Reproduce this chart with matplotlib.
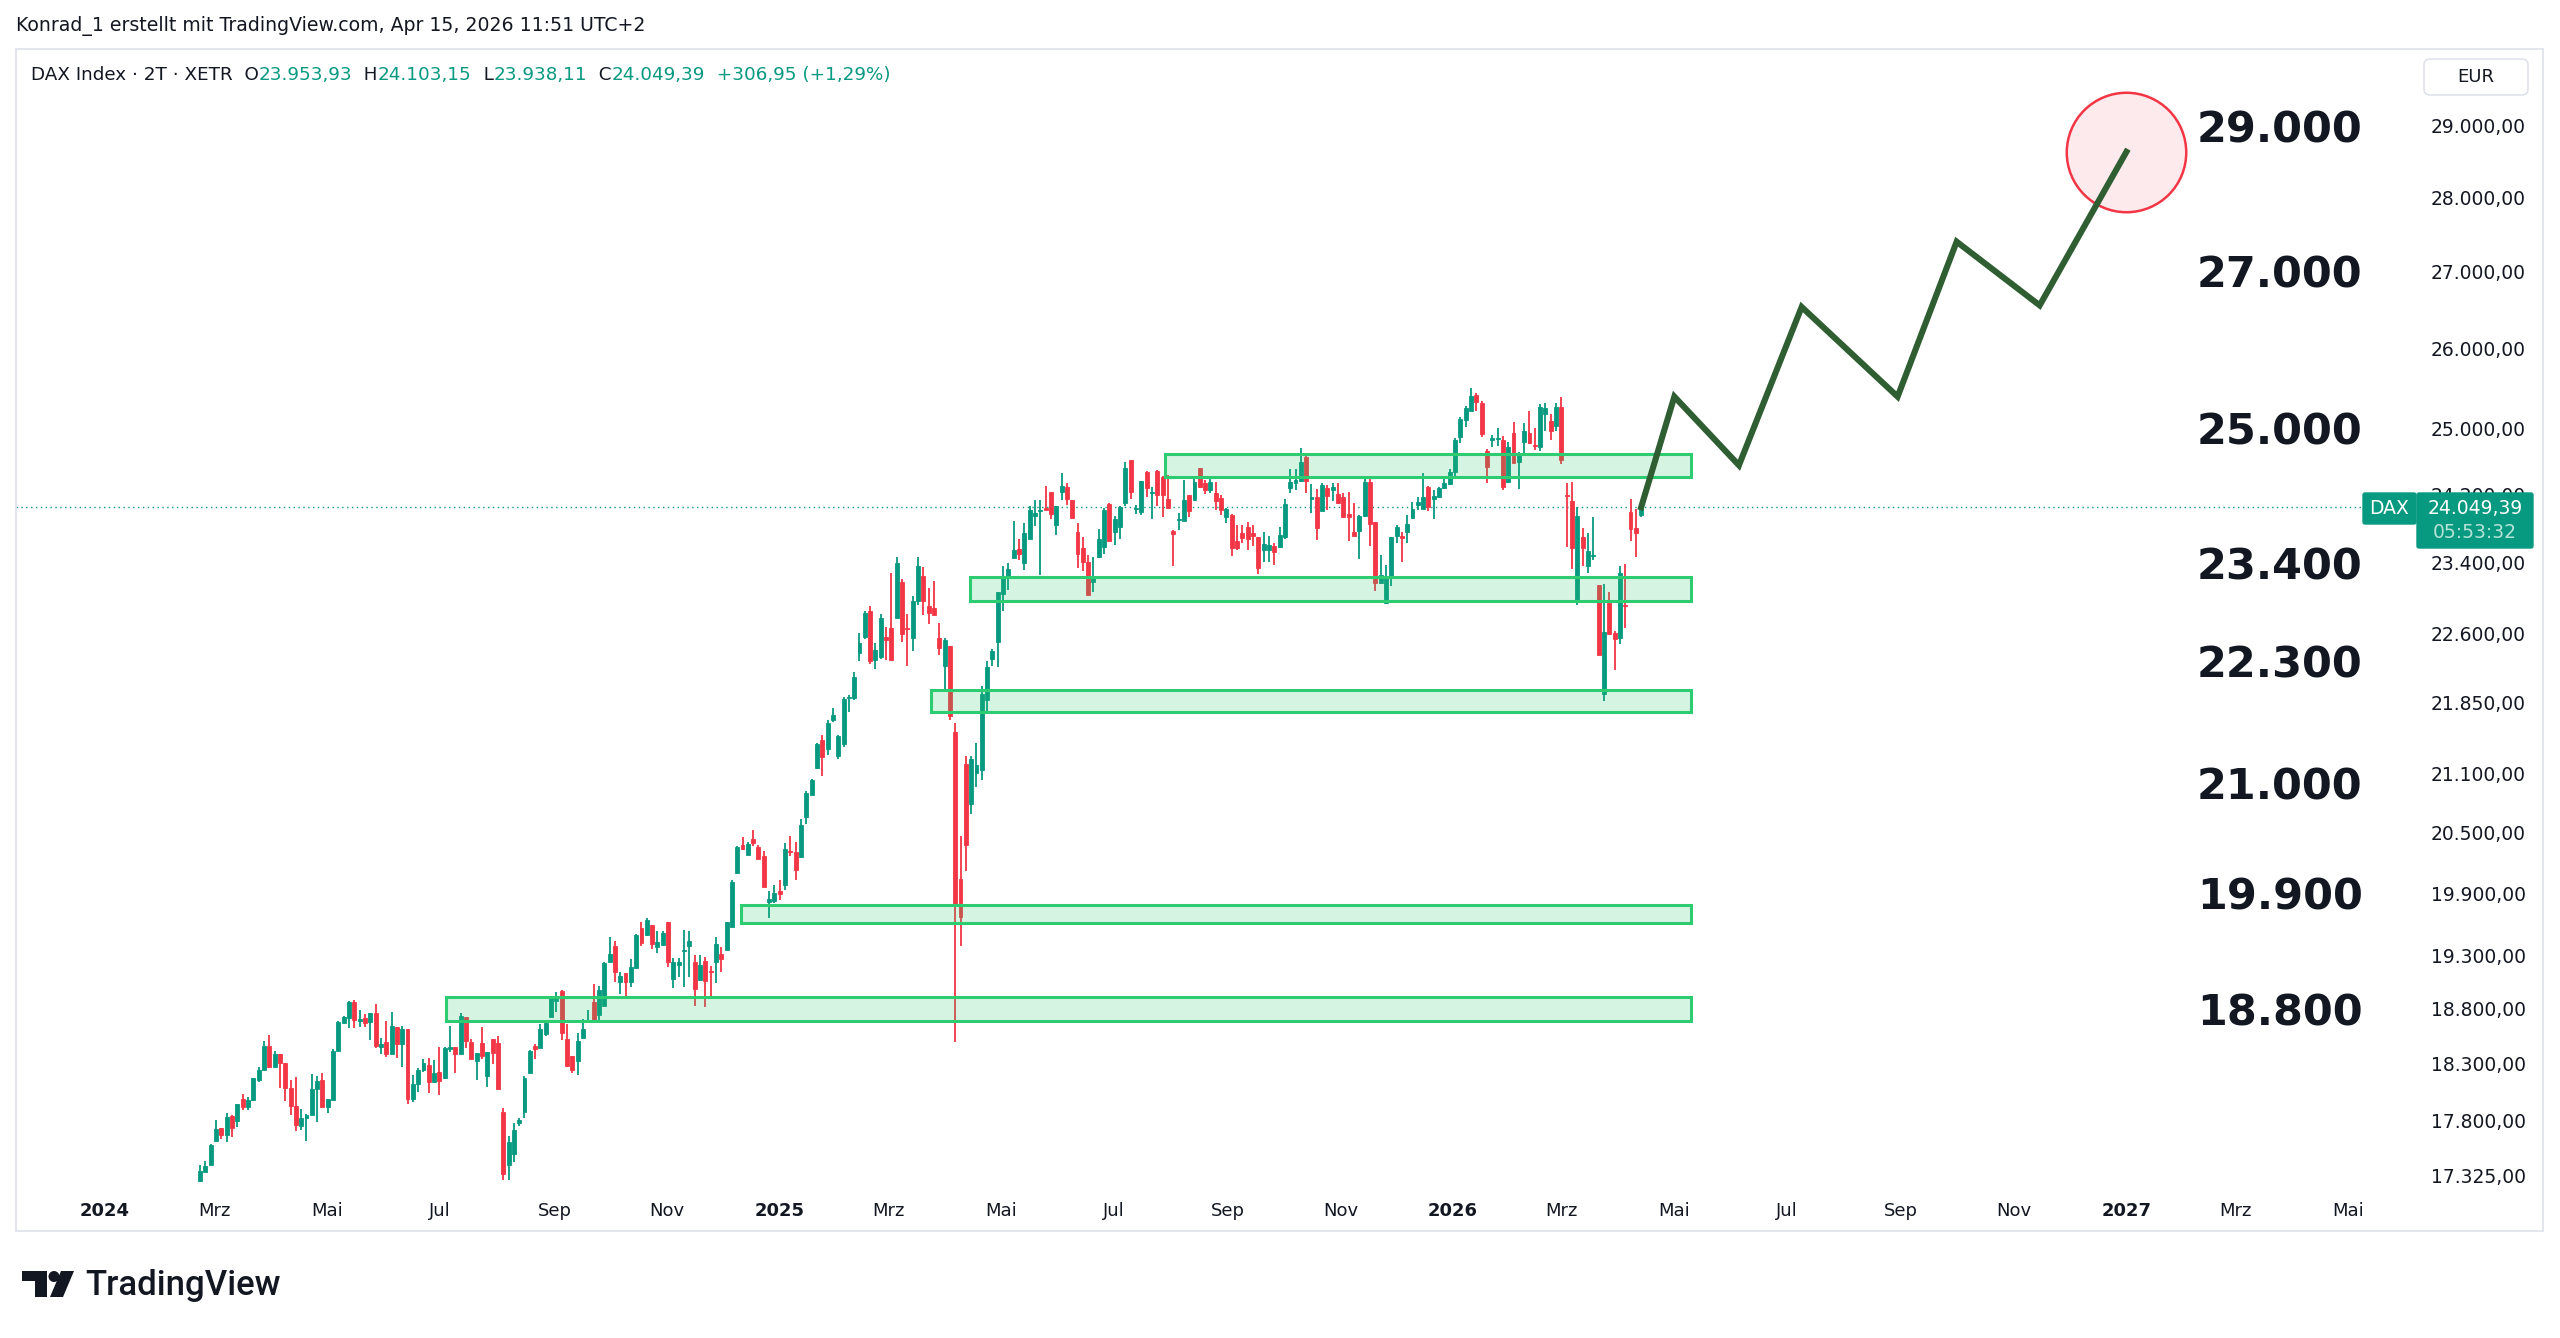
import matplotlib
matplotlib.use("Agg")
import matplotlib.pyplot as plt
import matplotlib.dates as mdates
import matplotlib.transforms as mtransforms
from matplotlib.patches import Rectangle, FancyBboxPatch, Polygon, Circle
from matplotlib.ticker import NullLocator
import numpy as np
import pandas as pd

W, H = 2560, 1338
GREEN, RED, INK = "#089981", "#f23645", "#131722"

# --- DAX 2-Tages-Kerzen ---
first_bar, last_bar = "2024-02-22", "2026-04-13"

opens = [
    17275, 17357, 17417, 17617, 17733, 17670, 17841, 17794, 17987, 17919,
    17978, 18158, 18247, 18464, 18268, 18389, 18304, 18088, 17928, 17748,
    17820, 17844, 18073, 18152, 17919, 17981, 18419, 18674, 18717, 18861,
    18692, 18720, 18677, 18763, 18452, 18494, 18392, 18632, 18479, 18618,
    17987, 18120, 18241, 18286, 18141, 18227, 18170, 18434, 18455, 18392,
    18722, 18497, 18329, 18488, 18190, 18527, 18488, 17873, 17415, 17508,
    17774, 17873, 18220, 18464, 18443, 18572, 18725, 18875, 18963, 18524,
    18368, 18323, 18530, 18676, 18866, 18749, 18829, 19237, 19390, 19055,
    19139, 19046, 19186, 19562, 19492, 19588, 19381, 19397, 19617, 19080,
    19214, 19340, 19390, 19240, 19065, 19250, 19154, 19234, 19314, 19356,
    19576, 20093, 20377, 20277, 20434, 20354, 20270, 19813, 19823, 19921,
    19977, 20320, 20310, 20254, 20660, 20886, 21160, 21449, 21360, 21660,
    21290, 21413, 21897, 21897, 22390, 22565, 22856, 22309, 22342, 22569,
    22661, 22781, 23180, 22669, 22557, 22970, 23249, 22909, 22894, 22557,
    22244, 22467, 21533, 20043, 21200, 20792, 21112, 21140, 21876, 22318,
    22509, 23049, 23225, 23461, 23560, 23394, 23672, 23944, 24008, 24035,
    24229, 23844, 24229, 24290, 24129, 23754, 23573, 23412, 23181, 23470,
    23582, 24090, 23763, 23817, 24104, 24615, 24026, 23990, 24466, 24220,
    24475, 24406, 24142, 23772, 23899, 23890, 24188, 24129, 24513, 24334,
    24255, 24215, 24156, 23932, 23960, 23648, 23751, 23813, 23751, 23698,
    23552, 23552, 23590, 23583, 23705, 24275, 24334, 24366, 24645, 24144,
    24168, 24010, 24275, 24255, 24207, 24168, 23971, 23755, 23774, 23948,
    24346, 23870, 23169, 22942, 23226, 23713, 23713, 23763, 23920, 24077,
    24026, 24287, 24144, 24175, 24275, 24326, 24473, 24888, 25101, 25217,
    25411, 25315, 24726, 24855, 24863, 24855, 24354, 24937, 24593, 24835,
    24937, 24795, 24775, 25175, 25093, 25027, 25266, 24195, 24123, 22975,
    23704, 23360, 23485, 23152, 21944, 22945, 22611, 22556, 22919, 23997,
    23803, 23953.93,
]
highs = [
    17417, 17446, 17597, 17806, 17733, 17864, 17850, 17946, 18031, 18007,
    18173, 18268, 18503, 18560, 18416, 18389, 18304, 18158, 18182, 17899,
    17855, 18212, 18188, 18218, 17987, 18434, 18691, 18738, 18876, 18879,
    18790, 18757, 18763, 18846, 18530, 18686, 18775, 18632, 18642, 18618,
    18203, 18259, 18346, 18352, 18337, 18449, 18449, 18639, 18455, 18762,
    18722, 18524, 18398, 18633, 18404, 18527, 18554, 17911, 17665, 17780,
    17823, 18190, 18428, 18482, 18664, 18700, 18917, 18954, 18978, 18664,
    18368, 18579, 18706, 18792, 19030, 19015, 19243, 19472, 19438, 19148,
    19139, 19271, 19501, 19617, 19662, 19588, 19534, 19534, 19624, 19278,
    19275, 19543, 19534, 19306, 19308, 19282, 19202, 19475, 19385, 19624,
    20033, 20361, 20456, 20401, 20524, 20377, 20320, 19921, 19977, 20027,
    20394, 20470, 20401, 20633, 20924, 21045, 21420, 21510, 21664, 21789,
    21510, 21915, 21934, 22180, 22610, 22856, 22913, 22498, 22818, 22676,
    23284, 23464, 23218, 22818, 23027, 23464, 23353, 23115, 23192, 22724,
    22550, 22467, 21628, 20469, 21290, 21290, 21423, 22034, 22305, 22428,
    23071, 23367, 23394, 23890, 23681, 23863, 24058, 24129, 24129, 24299,
    24229, 24067, 24452, 24336, 24137, 23867, 23695, 23492, 23470, 23794,
    24035, 24104, 23944, 24058, 24592, 24615, 24081, 24359, 24475, 24290,
    24489, 24415, 24429, 23785, 23981, 24369, 24197, 24397, 24513, 24374,
    24414, 24354, 24195, 24038, 23968, 23843, 23843, 23870, 23843, 23698,
    23763, 23713, 23629, 23813, 24144, 24502, 24502, 24754, 24661, 24326,
    24263, 24334, 24314, 24334, 24334, 24222, 24235, 24097, 23960, 24414,
    24402, 23870, 23494, 23377, 23705, 23843, 23763, 23960, 24116, 24175,
    24461, 24303, 24255, 24294, 24394, 24502, 24876, 25142, 25275, 25494,
    25432, 25340, 24742, 24916, 24998, 24904, 24835, 25081, 24714, 25060,
    25217, 24998, 25299, 25315, 25175, 25307, 25381, 24334, 24346, 24056,
    23803, 23743, 23939, 23152, 23160, 23066, 22630, 23360, 23387, 24142,
    24024, 24103.15,
]
lows = [
    17267, 17352, 17411, 17609, 17638, 17615, 17655, 17739, 17887, 17890,
    17966, 18135, 18244, 18262, 18262, 18085, 17966, 17850, 17704, 17713,
    17623, 17844, 17785, 17919, 17864, 17981, 18419, 18671, 18622, 18622,
    18630, 18630, 18512, 18443, 18386, 18358, 18386, 18349, 18274, 17943,
    17960, 18046, 18229, 18040, 18135, 18025, 18167, 18404, 18214, 18392,
    18443, 18344, 18160, 18344, 18095, 18302, 18072, 17284, 17284, 17437,
    17751, 17823, 18220, 18344, 18443, 18548, 18725, 18768, 18518, 18273,
    18220, 18198, 18530, 18670, 18694, 18670, 18829, 19237, 19055, 18942,
    18911, 19003, 19176, 19390, 19485, 19365, 19321, 19397, 19195, 18993,
    19095, 19003, 19101, 18829, 19059, 18815, 18903, 19043, 19145, 19356,
    19576, 20087, 20327, 20277, 20367, 20234, 19960, 19660, 19806, 19836,
    19928, 20261, 20027, 20244, 20582, 20879, 21150, 21080, 21297, 21646,
    21255, 21378, 21753, 21879, 22298, 22546, 22268, 22218, 22327, 22316,
    22305, 22773, 22512, 22244, 22409, 22924, 22810, 22713, 22810, 22371,
    21970, 21669, 18500, 19386, 20119, 20690, 20960, 21040, 21723, 22246,
    22233, 22853, 23093, 23461, 23439, 23322, 23672, 23831, 23260, 24012,
    23908, 23726, 24129, 24081, 23922, 23345, 23305, 23040, 23067, 23457,
    23501, 23649, 23604, 23681, 24058, 24151, 23967, 23953, 24174, 23908,
    24058, 23935, 24044, 23367, 23785, 23890, 23935, 24129, 24275, 24207,
    24215, 24018, 23960, 23862, 23475, 23544, 23629, 23552, 23590, 23274,
    23415, 23415, 23377, 23571, 23675, 24222, 24255, 24354, 24222, 23979,
    23667, 23999, 24018, 24128, 24089, 23932, 23659, 23713, 23442, 23932,
    23590, 23075, 23169, 22934, 23132, 23629, 23415, 23636, 23920, 24018,
    24026, 24010, 23909, 24168, 24263, 24314, 24421, 24823, 25019, 25217,
    25217, 24896, 24342, 24766, 24783, 24254, 24342, 24573, 24262, 24694,
    24807, 24734, 24726, 24970, 24855, 24970, 24565, 23589, 23329, 22927,
    23360, 23284, 23436, 22362, 21862, 22603, 22202, 22483, 22667, 23658,
    23474, 23938.11,
]
closes = [
    17360, 17408, 17589, 17724, 17675, 17829, 17730, 17946, 17919, 17981,
    18170, 18247, 18464, 18268, 18389, 18307, 18082, 17922, 17756, 17820,
    17850, 18079, 18146, 17919, 17987, 18413, 18680, 18729, 18861, 18696,
    18711, 18674, 18763, 18461, 18482, 18392, 18642, 18479, 18618, 17987,
    18120, 18244, 18310, 18141, 18221, 18146, 18440, 18452, 18392, 18737,
    18503, 18344, 18398, 18368, 18404, 18395, 18072, 17339, 17608, 17714,
    17803, 18175, 18413, 18437, 18615, 18670, 18908, 18923, 18579, 18285,
    18249, 18503, 18615, 18694, 18694, 18978, 19227, 19312, 19148, 19107,
    19046, 19195, 19492, 19415, 19640, 19409, 19425, 19517, 19240, 19240,
    19240, 19353, 19438, 18984, 19212, 19059, 19145, 19410, 19263, 19624,
    20010, 20354, 20340, 20387, 20394, 20234, 19960, 19845, 19901, 19895,
    20334, 20307, 20127, 20572, 20907, 21034, 21406, 21272, 21628, 21718,
    21492, 21890, 21912, 22129, 22494, 22830, 22298, 22416, 22773, 22535,
    22312, 23401, 22595, 22657, 22970, 23361, 22970, 22837, 22810, 22445,
    22527, 21710, 19778, 19665, 20371, 21249, 21192, 21947, 22233, 22407,
    23071, 23225, 23336, 23546, 23501, 23749, 24012, 23981, 24021, 24012,
    23967, 24067, 24299, 24151, 23922, 23501, 23412, 23040, 23252, 23672,
    24012, 23649, 23908, 24049, 24522, 24229, 24044, 24359, 24280, 24229,
    24197, 24197, 24044, 23740, 23908, 24137, 23999, 24350, 24287, 24255,
    24346, 24128, 24018, 24026, 23571, 23571, 23686, 23675, 23713, 23339,
    23617, 23610, 23521, 23725, 24089, 24354, 24374, 24593, 24366, 24168,
    23809, 24314, 24183, 24287, 24097, 23932, 23932, 23713, 23948, 24354,
    23855, 23169, 23264, 23226, 23705, 23813, 23694, 23855, 24026, 24116,
    24168, 24050, 24183, 24275, 24342, 24473, 24855, 25109, 25246, 25399,
    25328, 24928, 24533, 24876, 24876, 24286, 24775, 24581, 24702, 24966,
    24823, 24783, 25258, 25246, 24970, 25266, 24613, 24183, 23570, 23946,
    23570, 23543, 23493, 22362, 22621, 22603, 22545, 23284, 22908, 23791,
    23742.44, 24049.39,
]

# Unterstützungs-/Widerstandszonen
zone_starts = ["2024-07-04", "2024-12-11", "2025-03-24", "2025-04-14", "2025-07-29"]
zone_end = "2026-05-10"
zone_lows = [18690, 19610, 21750, 22970, 24410]
zone_highs = [18915, 19780, 21985, 23235, 24690]

# Projektion (Zickzack) bis zum Ziel
proj_dates = ["2026-04-13", "2026-05-01", "2026-06-05", "2026-07-09",
              "2026-08-30", "2026-10-01", "2026-11-15", "2027-01-01"]
proj_prices = [24049, 25390, 24549, 26532, 25390, 27396, 26553, 28631]

target_levels = [29000, 27000, 25000, 23400, 22300, 21000, 19900, 18800]
price_ticks = [29000, 28000, 27000, 26000, 25000, 24200, 23400, 22600, 21850,
               21100, 20500, 19900, 19300, 18800, 18300, 17800, 17325]
month_ticks = pd.date_range("2024-01-01", "2027-05-01", freq="2MS")
month_labels = ["2024", "Mrz", "Mai", "Jul", "Sep", "Nov",
                "2025", "Mrz", "Mai", "Jul", "Sep", "Nov",
                "2026", "Mrz", "Mai", "Jul", "Sep", "Nov",
                "2027", "Mrz", "Mai"]


def de(v, nd=2):
    s = f"{v:,.{nd}f}"
    return s.replace(",", "X").replace(".", ",").replace("X", ".")


def fx(px):
    return px / W


def fy(py):
    return 1 - py / H


plt.rcParams["font.family"] = ["DejaVu Sans"]
fig = plt.figure(figsize=(W / 100, H / 100), dpi=100)
fig.patch.set_facecolor("white")
ax = fig.add_axes([fx(16), fy(1192), (2417 - 16) / W, (1192 - 49) / H])
for sp in ax.spines.values():
    sp.set_visible(False)

# candles
o, h, l, c = (np.asarray(a, float) for a in (opens, highs, lows, closes))
n = len(c)
x = np.linspace(mdates.datestr2num(first_bar), mdates.datestr2num(last_bar), n)
step = x[1] - x[0]
cols = np.where(c >= o, GREEN, RED)
ax.vlines(x, l, h, colors=cols, lw=1.3, zorder=2)
ax.bar(x, np.abs(c - o), bottom=np.minimum(o, c), width=step * 0.74,
       color=cols, edgecolor=cols, linewidth=0.6, zorder=2)

# zones
zend = mdates.datestr2num(zone_end)
for s, lo, hi in zip(zone_starts, zone_lows, zone_highs):
    x0 = mdates.datestr2num(s)
    ax.add_patch(Rectangle((x0, lo), zend - x0, hi - lo,
                           facecolor=(46 / 255, 204 / 255, 113 / 255, 0.2),
                           edgecolor="#2ecc71", lw=2.2, zorder=3))

# last price line
ax.axhline(c[-1], color=GREEN, lw=1, ls=(0, (1, 2.5)), zorder=1)

# projection + target circle
pd_num = mdates.datestr2num(proj_dates)
ax.scatter([pd_num[-1]], [proj_prices[-1]], s=7400,
           facecolor=(242 / 255, 54 / 255, 69 / 255, 0.1), edgecolor=RED,
           lw=1.8, zorder=4)
ax.plot(pd_num, proj_prices, color="#2f5e32", lw=4.4, zorder=5,
        solid_joinstyle="miter")

# scales
ax.set_yscale("log")
ax.set_ylim(17185, 30113)
base = mdates.datestr2num("2024-01-01")
ax.set_xlim(base - 47.8, base + 1253.5)
ax.yaxis.tick_right()
ax.set_yticks(price_ticks)
ax.set_yticklabels([de(v) for v in price_ticks])
ax.yaxis.set_minor_locator(NullLocator())
ax.tick_params(axis="y", length=0, pad=10, labelsize=13.5, labelcolor=INK)
ax.set_xticks(mdates.date2num(month_ticks))
ax.set_xticklabels(month_labels)
ax.xaxis.set_minor_locator(NullLocator())
for lbl, txt in zip(ax.get_xticklabels(), month_labels):
    if txt.isdigit():
        lbl.set_fontweight("bold")
ax.tick_params(axis="x", length=0, pad=7, labelsize=13, labelcolor=INK)

# big target numbers
tr = mtransforms.blended_transform_factory(ax.transAxes, ax.transData)
lx = (2197 - 16) / (2417 - 16)
for lv in target_levels:
    ax.text(lx, lv, de(lv, 0), transform=tr, fontsize=31, fontweight="bold",
            color=INK, ha="left", va="center_baseline", zorder=6)

# frame around chart
fig.add_artist(Rectangle((fx(16), fy(1231)), (2543 - 16) / W, (1231 - 49) / H,
                         transform=fig.transFigure, fill=False,
                         ec="#e0e3eb", lw=1.3))

# header
fig.text(fx(16), fy(26), "Konrad_1 erstellt mit TradingView.com, Apr 15, 2026 11:51 UTC+2",
         fontsize=13.6, color=INK, va="center", ha="left")

r = fig.canvas.get_renderer()
sign = "+" if c[-1] >= c[-2] else ""
parts = [("DAX Index · 2T · XETR  O", INK), (de(o[-1]), GREEN), ("  H", INK),
         (de(h[-1]), GREEN), ("  L", INK), (de(l[-1]), GREEN), ("  C", INK),
         (de(c[-1]), GREEN),
         (f"  {sign}{de(c[-1] - c[-2])} ({sign}{de((c[-1] - c[-2]) / c[-2] * 100)}%)", GREEN)]
xp = 31
for s, colr in parts:
    t = fig.text(fx(xp), fy(75), s, fontsize=13.2, color=colr, va="center", ha="left")
    xp = t.get_window_extent(r).x1

# EUR box
idt = mtransforms.IdentityTransform()
fig.add_artist(FancyBboxPatch((2424, H - 95), 104, 36,
                              boxstyle="round,pad=0,rounding_size=6",
                              transform=idt, fc="white", ec="#e0e3eb", lw=1.2))
fig.text(fx(2476), fy(77), "EUR", fontsize=13, color=INK, ha="center", va="center")

# last price labels
fig.add_artist(FancyBboxPatch((2363, H - 524), 53, 31,
                              boxstyle="round,pad=0,rounding_size=2",
                              transform=idt, fc=GREEN, ec=GREEN, zorder=5))
fig.add_artist(FancyBboxPatch((2417, H - 548), 116, 55,
                              boxstyle="round,pad=0,rounding_size=2",
                              transform=idt, fc=GREEN, ec=GREEN, zorder=5))
fig.text(fx(2389.5), fy(509), "DAX", fontsize=13.5, color="white", ha="center",
         va="center", zorder=6)
fig.text(fx(2475), fy(508), de(c[-1]), fontsize=13.5, color="white",
         ha="center", va="center", zorder=6)
fig.text(fx(2475), fy(533), "05:53:32", fontsize=13.5, color="#b5e3d8",
         ha="center", va="center", zorder=6)

# TradingView logo
fig.add_artist(Polygon([(22, H - 1271), (47, H - 1271), (47, H - 1297),
                        (35, H - 1297), (35, H - 1281), (22, H - 1281)],
                       closed=True, transform=idt, fc="#131722", ec="none"))
fig.add_artist(Circle((54, H - 1276.5), 5.5, transform=idt, fc="#131722", ec="none"))
fig.add_artist(Polygon([(61, H - 1271), (74, H - 1271), (63, H - 1297),
                        (50, H - 1297)],
                       closed=True, transform=idt, fc="#131722", ec="none"))
fig.text(fx(85), fy(1285), "TradingView", fontsize=25, fontweight="medium",
         family=["Roboto", "DejaVu Sans"], color="#131722", ha="left", va="center")

fig.savefig("out.png", dpi=100, facecolor="white")
